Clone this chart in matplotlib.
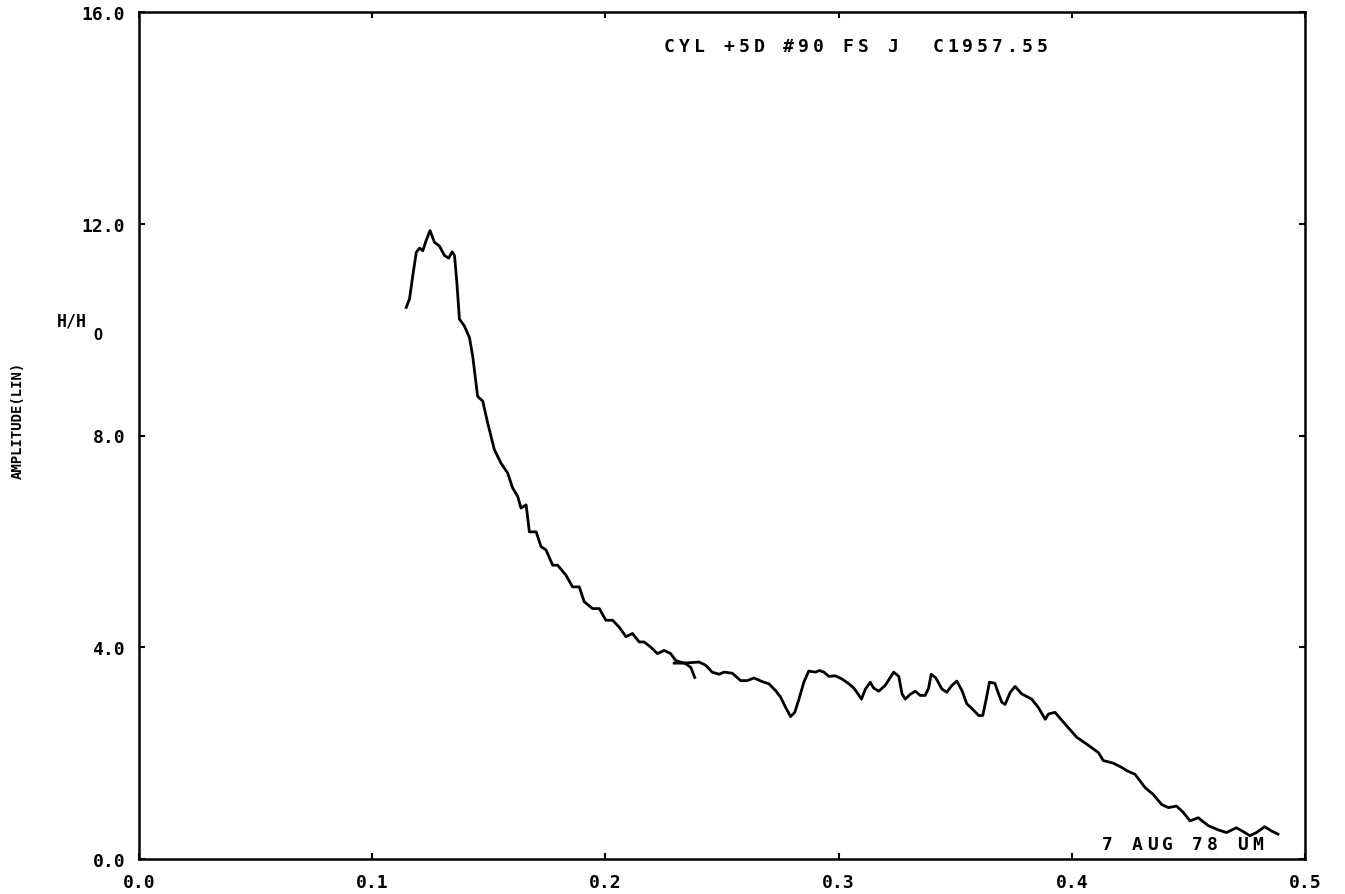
import numpy as np
import matplotlib
matplotlib.use("Agg")
from matplotlib import pyplot as plt

# segment 1 (low frequency sweep)
f1 = [0.1146, 0.116, 0.1174, 0.1189, 0.1203, 0.1217, 0.1231, 0.1248, 0.1267, 0.1288,
      0.131, 0.1328, 0.1343, 0.1353, 0.1363, 0.1374, 0.1395, 0.1417, 0.1431, 0.1452,
      0.1474, 0.1495, 0.1524, 0.1552, 0.1581, 0.1602, 0.1624, 0.1638, 0.166, 0.1674,
      0.1703, 0.1724, 0.1745, 0.1774, 0.1795, 0.1831, 0.1859, 0.1888, 0.1909, 0.1945,
      0.1974, 0.2002, 0.2031, 0.2059, 0.2088, 0.2116, 0.2145, 0.2166, 0.2195, 0.2223,
      0.2252, 0.228, 0.2301, 0.2344, 0.2366, 0.2383]
a1 = [10.42, 10.58, 11.02, 11.46, 11.54, 11.49, 11.68, 11.87, 11.65, 11.58,
      11.40, 11.35, 11.47, 11.40, 10.89, 10.20, 10.07, 9.85, 9.50, 8.74,
      8.65, 8.24, 7.73, 7.48, 7.29, 7.01, 6.85, 6.63, 6.69, 6.18,
      6.18, 5.90, 5.84, 5.55, 5.55, 5.36, 5.14, 5.14, 4.86, 4.73,
      4.73, 4.51, 4.51, 4.38, 4.20, 4.26, 4.10, 4.10, 4.00, 3.88,
      3.94, 3.88, 3.75, 3.69, 3.62, 3.43]

# segment 2 (high frequency sweep)
f2 = [0.2295, 0.233, 0.2402, 0.243, 0.2458, 0.2487, 0.2509, 0.2544, 0.258, 0.2609,
      0.2637, 0.2673, 0.2701, 0.273, 0.2751, 0.2772, 0.2794, 0.2812, 0.283, 0.2851,
      0.2872, 0.2901, 0.2918, 0.2937, 0.2958, 0.2986, 0.3015, 0.3044, 0.3065, 0.3083,
      0.3098, 0.3115, 0.3136, 0.315, 0.3172, 0.32, 0.3236, 0.3258, 0.3272, 0.3286,
      0.3307, 0.3329, 0.335, 0.3371, 0.3386, 0.3397, 0.3417, 0.3443, 0.3464, 0.3486,
      0.3507, 0.3529, 0.355, 0.3572, 0.3601, 0.3618, 0.3632, 0.3647, 0.367, 0.3686,
      0.37, 0.3714, 0.3736, 0.3757, 0.3785, 0.3828, 0.3857, 0.3886, 0.39, 0.3928,
      0.3971, 0.4021, 0.4064, 0.4114, 0.4135, 0.4178, 0.4214, 0.4235, 0.4271, 0.4314,
      0.4349, 0.4385, 0.4414, 0.4449, 0.4478, 0.4507, 0.4542, 0.4585, 0.4628, 0.4663,
      0.4706, 0.4742, 0.4763, 0.4792, 0.4827, 0.4856, 0.4884]
a2 = [3.70, 3.70, 3.72, 3.66, 3.53, 3.49, 3.53, 3.51, 3.37, 3.37,
      3.42, 3.35, 3.31, 3.18, 3.06, 2.87, 2.69, 2.77, 3.02, 3.34,
      3.55, 3.53, 3.56, 3.53, 3.45, 3.46, 3.40, 3.31, 3.23, 3.12,
      3.02, 3.21, 3.34, 3.23, 3.17, 3.28, 3.53, 3.45, 3.12, 3.02,
      3.11, 3.17, 3.09, 3.09, 3.23, 3.49, 3.42, 3.21, 3.15, 3.28,
      3.36, 3.18, 2.93, 2.84, 2.71, 2.71, 3.00, 3.34, 3.32, 3.12,
      2.96, 2.92, 3.15, 3.26, 3.12, 3.02, 2.86, 2.64, 2.74, 2.77,
      2.55, 2.30, 2.17, 2.01, 1.86, 1.81, 1.73, 1.67, 1.60, 1.35,
      1.22, 1.03, 0.97, 1.00, 0.88, 0.72, 0.78, 0.63, 0.55, 0.50,
      0.59, 0.50, 0.44, 0.50, 0.61, 0.53, 0.47]

xticks = [0.0, 0.1, 0.2, 0.3, 0.4, 0.5]
yticks = [0.0, 4.0, 8.0, 12.0, 16.0]
title = "CYL +5D #90 FS J  C1957.55"
stamp = "7 AUG 78 UM"

fnt = "DejaVu Sans Mono"
W, H = 1345, 895


def plotter_text(fig, s, x0, y, pitch, size):
    # old plotter lettering: fixed, wide character pitch (pixels)
    for i, ch in enumerate(s):
        if ch == " ":
            continue
        fig.text((x0 + pitch * (i + 0.5)) / W, 1 - y / H, ch, ha="center", va="center",
                 family=fnt, fontweight="bold", fontsize=size)


fig = plt.figure(figsize=(W / 100, H / 100), dpi=100)
ax = fig.add_axes([139 / W, 1 - 860 / H, 1166 / W, 847 / H])

ax.plot(f1, a1, color="black", lw=2.0)
ax.plot(f2, a2, color="black", lw=2.0)

ax.set_xlim(0, 0.5)
ax.set_ylim(0, 16)
ax.set_xticks(xticks)
ax.set_yticks(yticks)
ax.set_xticklabels(["%.1f" % v for v in xticks], family=fnt, fontweight="bold", fontsize=13)
ax.set_yticklabels(["%.1f" % v for v in yticks], family=fnt, fontweight="bold", fontsize=13)
ax.tick_params(direction="in", length=4, width=1.5, top=True, right=True, pad=10)
for s in ax.spines.values():
    s.set_linewidth(1.8)

plotter_text(fig, title, 662, 47, 14.9, 13)
plotter_text(fig, stamp, 1100, 845, 15.0, 13)

fig.text(72 / W, 1 - 322 / H, "H/H", ha="center", va="center",
         family=fnt, fontweight="bold", fontsize=12)
fig.text(98 / W, 1 - 336 / H, "O", ha="center", va="center",
         family=fnt, fontweight="bold", fontsize=11)
fig.text(18 / W, 1 - 420 / H, "AMPLITUDE(LIN)", rotation=90, ha="center", va="center",
         family=fnt, fontweight="bold", fontsize=10)

fig.savefig("out.png", dpi=100)
